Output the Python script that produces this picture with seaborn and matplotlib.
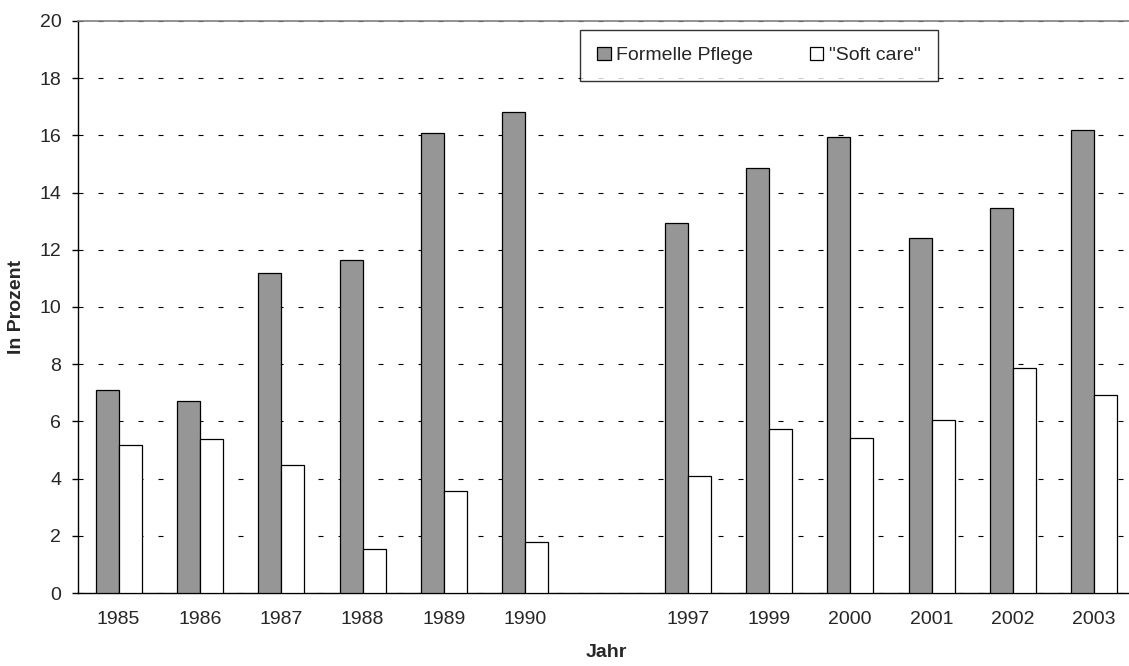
"""
Formelle Pflege vs. "Soft care" (in Prozent), 1985-2003
"""

import pandas as pd
import matplotlib
matplotlib.use("Agg")
import matplotlib.pyplot as plt
from matplotlib.patches import Patch
import seaborn as sns

# Data; "" is the empty slot between 1990 and 1997
years = ["1985", "1986", "1987", "1988", "1989", "1990", "",
         "1997", "1999", "2000", "2001", "2002", "2003"]
data_years = ["1985", "1986", "1987", "1988", "1989", "1990",
              "1997", "1999", "2000", "2001", "2002", "2003"]
formelle_pflege = [7.10, 6.71, 11.20, 11.63, 16.08, 16.82,
                   12.94, 14.86, 15.94, 12.42, 13.45, 16.18]
soft_care = [5.16, 5.37, 4.48, 1.55, 3.58, 1.77,
             4.09, 5.72, 5.43, 6.05, 7.88, 6.93]
series_names = ["Formelle Pflege", '"Soft care"']
series_colors = ["#969696", "#ffffff"]
y_ticks = list(range(0, 21, 2))

df = pd.DataFrame({
    "Jahr": data_years * 2,
    "Wert": formelle_pflege + soft_care,
    "Reihe": [series_names[0]] * len(data_years) + [series_names[1]] * len(data_years),
})

sns.set_theme(style="white")
plt.rcParams["font.family"] = ["Liberation Sans", "DejaVu Sans"]

fig = plt.figure(figsize=(11.29, 6.66), dpi=100)
ax = fig.add_axes([0.0691, 0.1096, 0.936, 0.8589])

sns.barplot(data=df, x="Jahr", y="Wert", hue="Reihe", order=years,
            hue_order=series_names, palette=dict(zip(series_names, series_colors)),
            width=0.566, gap=0, edgecolor="black", linewidth=0.9,
            saturation=1, legend=False, ax=ax, zorder=3)

# y axis
ax.set_ylim(0, 20)
ax.set_yticks(y_ticks)
ax.set_yticklabels([str(t) for t in y_ticks], fontsize=14)
ax.yaxis.grid(True, color="black", linewidth=0.8, linestyle=(0, (4.5, 13.5)), zorder=0)
ax.set_axisbelow(True)

# x axis: labels at centers, tick marks at category boundaries
ax.set_xlim(-0.5, len(years) - 0.5)
ax.set_xticks(range(len(years)))
ax.set_xticklabels(years, fontsize=14)
ax.set_xticks([i - 0.5 for i in range(len(years) + 1)], minor=True)
ax.tick_params(axis="x", which="major", length=0, pad=13)
ax.tick_params(axis="x", which="minor", length=4, width=1, color="black", direction="out")
ax.tick_params(axis="y", length=4, width=1, color="black", direction="out", left=True, pad=8)

for side in ["left", "bottom"]:
    ax.spines[side].set_color("black")
    ax.spines[side].set_linewidth(1)
ax.spines["top"].set_color("#808080")
ax.spines["top"].set_linewidth(1.2)
ax.spines["right"].set_color("#808080")

ax.set_xlabel("Jahr", fontsize=14, fontweight="bold")
ax.set_ylabel("In Prozent", fontsize=14, fontweight="bold")
ax.xaxis.set_label_coords(0.5, -0.09)
ax.yaxis.set_label_coords(-0.05, 0.5)

handles = [Patch(facecolor=c, edgecolor="black", linewidth=0.9) for c in series_colors]
leg = ax.legend(handles, series_names, ncol=2, fontsize=14, loc="upper left",
                bbox_to_anchor=(0.4755, 0.984), frameon=True, fancybox=False,
                borderpad=0.85, handlelength=0.7, handleheight=0.7,
                handletextpad=0.3, columnspacing=2.9, borderaxespad=0)
leg.get_frame().set_edgecolor("black")
leg.get_frame().set_linewidth(1)
leg.set_zorder(5)

fig.savefig("out.png", dpi=100)
